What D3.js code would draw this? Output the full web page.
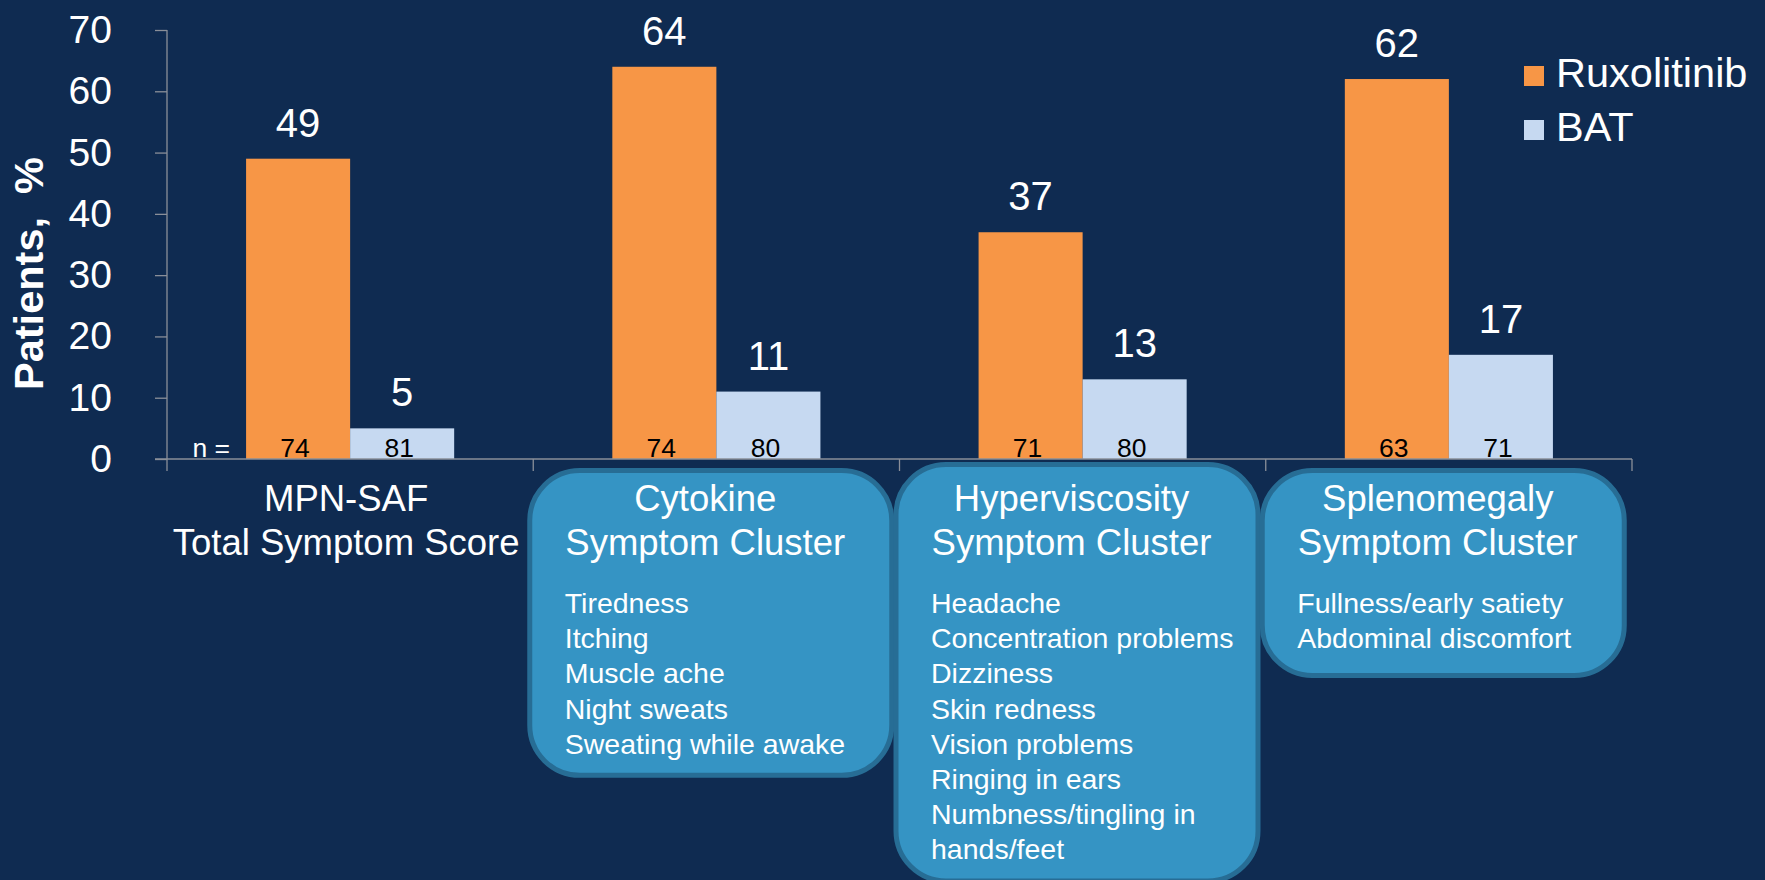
<!DOCTYPE html>
<html>
<head>
<meta charset="utf-8">
<script src="https://cdn.jsdelivr.net/npm/d3@7"></script>
<style>
  html, body { margin: 0; padding: 0; background: #0f2b51; }
  svg { display: block; font-family: "Liberation Sans", Arial, sans-serif; }
</style>
</head>
<body>
<svg id="chart" width="1765" height="880"></svg>
<script>
// ---- data ----
const categoryTitles = [
  ["MPN-SAF", "Total Symptom Score"],
  ["Cytokine", "Symptom Cluster"],
  ["Hyperviscosity", "Symptom Cluster"],
  ["Splenomegaly", "Symptom Cluster"]
];
const symptomLists = [
  [],
  ["Tiredness", "Itching", "Muscle ache", "Night sweats", "Sweating while awake"],
  ["Headache", "Concentration problems", "Dizziness", "Skin redness", "Vision problems",
   "Ringing in ears", "Numbness/tingling in", "hands/feet"],
  ["Fullness/early satiety", "Abdominal discomfort"]
];
const seriesNames = ["Ruxolitinib", "BAT"];
const ruxolitinibPct = [49, 64, 37, 62];
const batPct = [5, 11, 13, 17];
const ruxolitinibN = [74, 74, 71, 63];
const batN = [81, 80, 80, 71];
const yTickValues = [0, 10, 20, 30, 40, 50, 60, 70];

// ---- style ----
const colors = { Ruxolitinib: "#f79646", BAT: "#c6d9f1" };
const axisColor = "#8a8f99";
const boxFill = "#3594c4";
const boxStroke = "#276d95";

const svg = d3.select("#chart");
const width = 1765, height = 880;
svg.append("rect").attr("width", width).attr("height", height).attr("fill", "#0f2b51");

// ---- scales ----
const x = d3.scaleBand().domain(d3.range(categoryTitles.length)).range([167, 1632]).padding(0);
const xs = d3.scaleBand().domain(seriesNames).range([0, x.bandwidth()]).paddingInner(0).paddingOuter(0.76);
const y = d3.scaleLinear().domain([0, 70]).range([459, 30]);

const rows = categoryTitles.map((t, i) => ({
  i,
  values: [
    { s: "Ruxolitinib", v: ruxolitinibPct[i], n: ruxolitinibN[i] },
    { s: "BAT", v: batPct[i], n: batN[i] }
  ]
}));

// ---- y axis ----
const yAxis = d3.axisLeft(y).tickValues(yTickValues).tickSize(12).tickSizeOuter(0).tickPadding(43);
const gy = svg.append("g").attr("transform", "translate(167,0)").call(yAxis);
gy.select(".domain").remove();
gy.selectAll(".tick line").attr("stroke", axisColor).attr("stroke-width", 1.3);
gy.selectAll(".tick text")
  .attr("fill", "#ffffff")
  .attr("font-size", 39)
  .attr("font-family", "Liberation Sans, Arial, sans-serif");
gy.append("line")
  .attr("x1", 0).attr("x2", 0)
  .attr("y1", y(70)).attr("y2", y(0) + 12)
  .attr("stroke", axisColor).attr("stroke-width", 1.3);

// y axis title
svg.append("text")
  .attr("transform", `translate(43,${(y(0) + y(70)) / 2 + 29}) rotate(-90)`)
  .attr("text-anchor", "middle")
  .attr("fill", "#ffffff")
  .attr("font-size", 41.5)
  .attr("font-weight", "bold")
  .style("white-space", "pre")
  .text("Patients,  %");

// ---- bars ----
const groups = svg.append("g").selectAll("g.cat")
  .data(rows).join("g")
  .attr("class", "cat")
  .attr("transform", d => `translate(${x(d.i)},0)`);

groups.selectAll("rect.bar")
  .data(d => d.values).join("rect")
  .attr("class", "bar")
  .attr("x", d => xs(d.s))
  .attr("width", xs.bandwidth())
  .attr("y", d => y(d.v))
  .attr("height", d => y(0) - y(d.v))
  .attr("fill", d => colors[d.s]);

// value labels above bars
groups.selectAll("text.val")
  .data(d => d.values).join("text")
  .attr("class", "val")
  .attr("x", d => xs(d.s) + xs.bandwidth() / 2)
  .attr("y", d => y(d.v) - 22)
  .attr("text-anchor", "middle")
  .attr("fill", "#ffffff")
  .attr("font-size", 40)
  .text(d => d.v);

// patient counts at the bar bases
groups.selectAll("text.n")
  .data(d => d.values).join("text")
  .attr("class", "n")
  .attr("x", d => xs(d.s) + xs.bandwidth() / 2 - 3)
  .attr("y", y(0) - 2)
  .attr("text-anchor", "middle")
  .attr("fill", "#000000")
  .attr("font-size", 26.5)
  .text(d => d.n);

svg.append("text")
  .attr("x", x(0) + xs("Ruxolitinib") - 16)
  .attr("y", y(0) - 2)
  .attr("text-anchor", "end")
  .attr("fill", "#ffffff")
  .attr("font-size", 26.5)
  .text("n =");

// ---- x axis baseline and separators ----
svg.append("line")
  .attr("x1", 155).attr("x2", x.range()[1])
  .attr("y1", y(0)).attr("y2", y(0))
  .attr("stroke", axisColor).attr("stroke-width", 1.3);
const sepXs = d3.range(1, categoryTitles.length).map(i => x(i)).concat([x.range()[1]]);
svg.append("g").selectAll("line")
  .data(sepXs).join("line")
  .attr("x1", d => d).attr("x2", d => d)
  .attr("y1", y(0)).attr("y2", y(0) + 12)
  .attr("stroke", axisColor).attr("stroke-width", 1.3);

// ---- category labels and symptom boxes ----
const titleBase = 511, titleGap = 44;
const listBase = 613, listGap = 35.2;
const boxTops = [0, 468, 462, 468];
const minBoxHeight = 210;

rows.forEach(d => {
  const i = d.i;
  const lines = categoryTitles[i];
  const items = symptomLists[i];
  let cx = x(i) + x.bandwidth() / 2 - 4;

  if (items.length) {
    const left = x(i) - 6;
    const w = 367;
    const top = boxTops[i];
    const bottom = Math.max(listBase + (items.length - 1) * listGap + 24, top + minBoxHeight);
    svg.append("rect")
      .attr("x", left + 2.5).attr("y", top + 2.5)
      .attr("width", w - 5).attr("height", bottom - top - 5)
      .attr("rx", 50).attr("ry", 50)
      .attr("fill", boxFill)
      .attr("stroke", boxStroke)
      .attr("stroke-width", 5);
    cx = left + w / 2 - 5.5;
    svg.append("g").selectAll("text")
      .data(items).join("text")
      .attr("x", left + 37.5)
      .attr("y", (t, k) => listBase + k * listGap)
      .attr("fill", "#ffffff")
      .attr("font-size", 28.5)
      .text(t => t);
  }

  svg.append("g").selectAll("text")
    .data(lines).join("text")
    .attr("x", cx)
    .attr("y", (t, k) => titleBase + k * titleGap)
    .attr("text-anchor", "middle")
    .attr("fill", "#ffffff")
    .attr("font-size", 36.5)
    .text(t => t);
});

// ---- legend ----
const legend = svg.append("g").attr("transform", "translate(1524,66)");
legend.selectAll("rect")
  .data(seriesNames).join("rect")
  .attr("x", 0).attr("y", (s, k) => k * 54)
  .attr("width", 20).attr("height", 20)
  .attr("fill", s => colors[s]);
legend.selectAll("text")
  .data(seriesNames).join("text")
  .attr("x", 32).attr("y", (s, k) => k * 54 + 21)
  .attr("fill", "#ffffff")
  .attr("font-size", 41.5)
  .text(s => s);
</script>
</body>
</html>
